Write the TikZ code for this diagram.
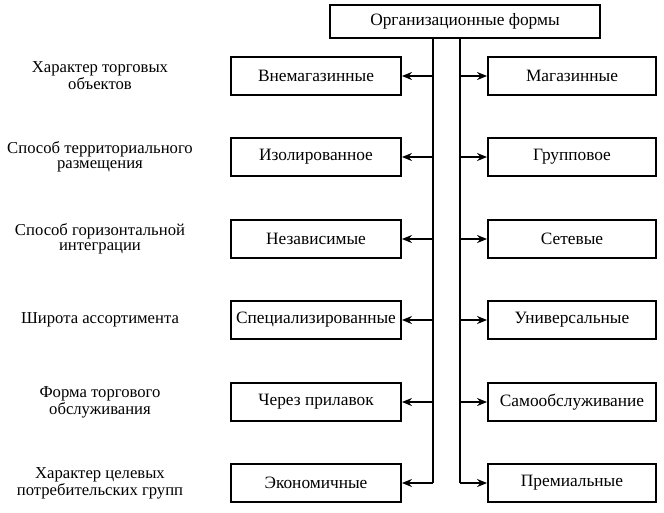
\documentclass[tikz,border=0pt]{standalone}
\usepackage{fontspec}
\setmainfont{Liberation Serif}
\usetikzlibrary{arrows.meta}
\begin{document}
\begin{tikzpicture}[x=0.75pt,y=-0.75pt,
  box/.style={draw, line width=1.4pt, minimum height=28.5pt, inner sep=0pt, font=\fontsize{13}{15}\selectfont},
  lbox/.style={box, minimum width=127.5pt},
  rbox/.style={box, minimum width=126pt},
  lab/.style={align=center, font=\fontsize{12.5}{11.5}\selectfont, inner sep=0pt},
  conn/.style={line width=1.4pt},
  arr/.style={line width=1.1pt, -{Stealth[length=7.5pt,width=6pt]}}]
\useasboundingbox (0,0) rectangle (664,512);
\node[box, minimum width=202pt, minimum height=25pt] (top) at (465,21.5) {Организационные формы};
\foreach \i/\y/\a/\b/\t in {
  1/76/Внемагазинные/Магазинные/{Характер торговых\\объектов},
  2/157/Изолированное/Групповое/{Способ территориального\\размещения},
  3/239/Независимые/Сетевые/{Способ горизонтальной\\интеграции},
  4/320/Специализированные/Универсальные/{Широта ассортимента},
  5/402/Через прилавок/Самообслуживание/{Форма торгового\\обслуживания},
  6/483/Экономичные/Премиальные/{Характер целевых\\потребительских групп}} {
  \node[lbox] (l\i) at (316,\y) {\a};
  \node[rbox] (r\i) at (572,\y) {\b};
  \node[lab] (t\i) at (100,\y) {\t};
}
\coordinate (lt) at (433,38);
\coordinate (rt) at (460,38);
\draw[conn] (top.south -| lt) -- (l6.east -| lt);
\draw[conn] (top.south -| rt) -- (r6.west -| rt);
\foreach \i in {1,...,6} {
  \draw[arr] (l\i.east -| lt) -- (l\i.east);
  \draw[arr] (r\i.west -| rt) -- (r\i.west);
}
\end{tikzpicture}
\end{document}
